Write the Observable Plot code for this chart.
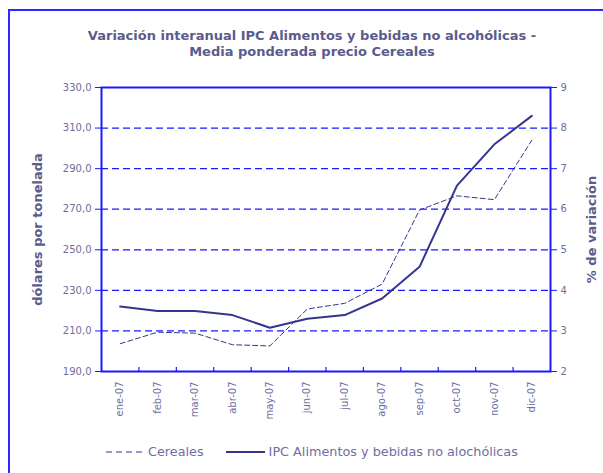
<!DOCTYPE html>
<html>
<head>
<meta charset="utf-8">
<script src="https://cdn.jsdelivr.net/npm/d3@7"></script>
<script src="https://cdn.jsdelivr.net/npm/@observablehq/plot@0.6"></script>
<style>
  body { margin: 0; width: 603px; height: 473px; overflow: hidden; background: #fff; position: relative; font-family: "DejaVu Sans", Verdana, sans-serif; }
  #border { position: absolute; left: 8px; top: 9px; width: 700px; height: 600px; border: 2px solid #2a2aff; }
  #title { position: absolute; left: 0; top: 28px; width: 624px; text-align: center; font-weight: bold; font-size: 13px; line-height: 16px; color: #5b5b8c; }
  #chart { position: absolute; left: 0; top: 70px; }
  #legend { position: absolute; top: 444px; left: 106px; font-size: 12.8px; color: #6e6ea0; white-space: nowrap; height: 16px; line-height: 16px; }
  #legend span.item { display: inline-flex; align-items: center; }
  #legend svg { vertical-align: middle; margin-right: 4px; }
</style>
</head>
<body>
<div id="border"></div>
<div id="title">Variación interanual IPC Alimentos y bebidas no alcohólicas -<br>Media ponderada precio Cereales</div>
<div id="chart"></div>
<div id="legend"></div>
<script>
const months = ["ene-07", "feb-07", "mar-07", "abr-07", "may-07", "jun-07", "jul-07", "ago-07", "sep-07", "oct-07", "nov-07", "dic-07"];
const cereales = [203.7, 209.4, 208.9, 203.2, 202.6, 220.8, 223.6, 233.1, 269.6, 276.6, 274.7, 304.0];
const ipc = [3.60, 3.49, 3.49, 3.39, 3.08, 3.30, 3.39, 3.80, 4.58, 6.58, 7.60, 8.30];
const leftTicks = [190, 210, 230, 250, 270, 290, 310, 330];
const rightTicks = [2, 3, 4, 5, 6, 7, 8, 9];
const seriesNames = ["Cereales", "IPC Alimentos y bebidas no alochólicas"];
const leftLabel = "dólares por tonelada";
const rightLabel = "% de variación";

const blue = "#1a1aff";
const lineColor = "#35358f";
const textColor = "#6e6ea0";
const labelColor = "#5b5b8c";

// map right-axis values (%) onto the left-axis domain
const toLeft = v => leftTicks[0] + (v - rightTicks[0]) * (leftTicks[leftTicks.length - 1] - leftTicks[0]) / (rightTicks[rightTicks.length - 1] - rightTicks[0]);
const fromLeft = d => rightTicks[0] + (d - leftTicks[0]) * (rightTicks[rightTicks.length - 1] - rightTicks[0]) / (leftTicks[leftTicks.length - 1] - leftTicks[0]);

const data = months.map((m, i) => ({i, m, c: cereales[i], p: ipc[i]}));
const boundaries = d3.range(1, months.length).map(k => k - 0.5);

const chart = Plot.plot({
  width: 603,
  height: 360,
  marginTop: 17,
  marginBottom: 59,
  marginLeft: 101,
  marginRight: 53,
  style: {fontFamily: "DejaVu Sans, Verdana, sans-serif", fontSize: "10px", color: textColor, background: "transparent"},
  x: {type: "linear", domain: [-0.5, months.length - 0.5]},
  y: {domain: [leftTicks[0], leftTicks[leftTicks.length - 1]]},
  marks: [
    Plot.ruleY(leftTicks.slice(1, -1), {stroke: blue, strokeDasharray: "7,4", strokeWidth: 1.2}),
    Plot.ruleX(boundaries, {y1: leftTicks[0], y2: leftTicks[0] + 2, stroke: blue, strokeWidth: 1.2}),
    Plot.frame({stroke: blue, strokeWidth: 2}),
    Plot.axisY(leftTicks, {anchor: "left", tickSize: 6, tickPadding: 4, stroke: blue, color: textColor, tickFormat: d => d.toFixed(1).replace(".", ","), label: null}),
    Plot.axisY(rightTicks.map(toLeft), {anchor: "right", tickSize: 6, tickPadding: 4, stroke: blue, color: textColor, tickFormat: d => String(Math.round(fromLeft(d))), label: null}),
    Plot.axisX(d3.range(months.length), {anchor: "bottom", tickSize: 0, tickPadding: 10, tickRotate: -90, color: textColor, tickFormat: i => months[i], label: null}),
    Plot.text([leftLabel], {frameAnchor: "left", dx: -64, rotate: -90, textAnchor: "middle", fontWeight: "bold", fontSize: 13, fill: labelColor}),
    Plot.text([rightLabel], {frameAnchor: "right", dx: 41, rotate: -90, textAnchor: "middle", fontWeight: "bold", fontSize: 13, fill: labelColor}),
    Plot.lineY(data, {x: "i", y: "c", stroke: lineColor, strokeWidth: 1, strokeDasharray: "5,3"}),
    Plot.lineY(data, {x: "i", y: d => toLeft(d.p), stroke: lineColor, strokeWidth: 2})
  ]
});
document.getElementById("chart").appendChild(chart);

// legend
const legend = document.getElementById("legend");
legend.innerHTML =
  `<span class="item"><svg width="38" height="10"><line x1="0" x2="37" y1="5" y2="5" stroke="${lineColor}" stroke-width="1" stroke-dasharray="6,4"/></svg>${seriesNames[0]}</span>` +
  `<span class="item" style="margin-left:22px"><svg width="39" height="10"><line x1="0" x2="39" y1="5" y2="5" stroke="${lineColor}" stroke-width="2"/></svg>${seriesNames[1]}</span>`;
</script>
</body>
</html>
